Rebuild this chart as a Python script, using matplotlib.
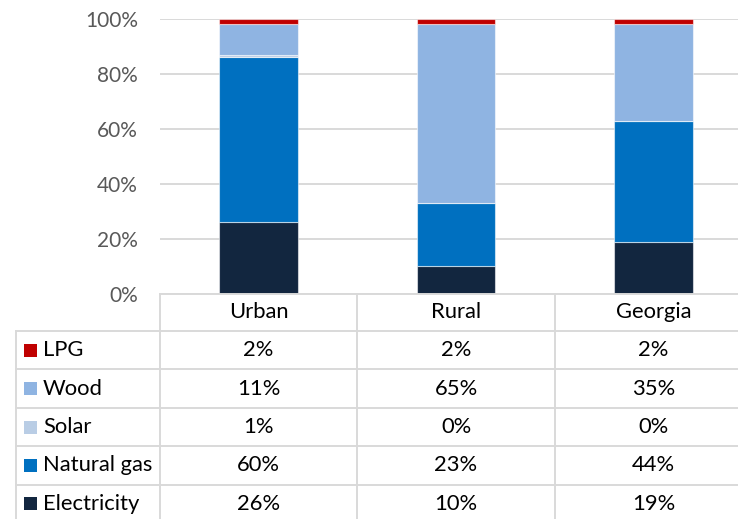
import matplotlib
matplotlib.use("Agg")
import matplotlib.pyplot as plt
import numpy as np

# ---- data ----
categories = ["Urban", "Rural", "Georgia"]
series_names = ["LPG", "Wood", "Solar", "Natural gas", "Electricity"]  # table order (top to bottom)
lpg = [2, 2, 2]
wood = [11, 65, 35]
solar = [1, 0, 0]
natural_gas = [60, 23, 44]
electricity = [26, 10, 19]
y_ticks = [0, 20, 40, 60, 80, 100]

colors = {
    "LPG": "#C00000",
    "Wood": "#8FB4E2",
    "Solar": "#B9CDE5",
    "Natural gas": "#0070C0",
    "Electricity": "#12263F",
}
values = {
    "LPG": lpg,
    "Wood": wood,
    "Solar": solar,
    "Natural gas": natural_gas,
    "Electricity": electricity,
}

W, H = 738, 519
FONT = "Lato"
plt.rcParams["font.family"] = [FONT, "DejaVu Sans"]
TS = 15.8   # table font size
YS = 15.0   # y tick font size

fig = plt.figure(figsize=(W / 100, H / 100), dpi=100)

# layout in pixels
ax_left, ax_right = 160, 752
ax_top, ax_bottom = 19, 293.7
ax = fig.add_axes([ax_left / W, 1 - ax_bottom / H, (ax_right - ax_left) / W, (ax_bottom - ax_top) / H])

x = np.arange(len(categories))
bottom = np.zeros(len(categories))
for name in reversed(series_names):  # stack from Electricity upward
    v = np.array(values[name], dtype=float) / 100.0
    ax.bar(x, v, width=0.4, bottom=bottom, color=colors[name],
           edgecolor=(1, 1, 1, 0.55), linewidth=0.8, zorder=3)
    bottom += v

ax.set_xlim(-0.5, len(categories) - 0.5)
ax.set_ylim(0, 1)
ax.set_yticks([t / 100 for t in y_ticks])
ax.set_yticklabels([f"{t}%" for t in y_ticks])
ax.tick_params(axis="y", length=0, pad=16, labelsize=YS, labelcolor="#595959")
ax.tick_params(axis="x", length=0, labelbottom=False)
for s in ax.spines.values():
    s.set_visible(False)
ax.yaxis.grid(True, color="#D9D9D9", linewidth=1.4, zorder=0)
ax.set_axisbelow(True)
ax.patch.set_alpha(0)

# ---- data table (pixel overlay) ----
tab = fig.add_axes([0, 0, 1, 1], zorder=5)
tab.set_xlim(0, W)
tab.set_ylim(H, 0)
tab.axis("off")
tab.patch.set_alpha(0)

line_c = "#D9D9D9"
lw = 1.4
col_w = (ax_right - ax_left) / len(categories)
table_left = 16
header_bottom = 331
row_h = 38.4
n_rows = len(series_names)
table_bottom = header_bottom + n_rows * row_h

# horizontal lines
tab.plot([ax_left, W + 20], [ax_bottom, ax_bottom], color=line_c, lw=lw)
for r in range(n_rows + 1):
    yy = header_bottom + r * row_h
    tab.plot([table_left, W + 20], [yy, yy], color=line_c, lw=lw)
# vertical lines
tab.plot([table_left, table_left], [header_bottom, table_bottom], color=line_c, lw=lw)
for c in range(len(categories) + 1):
    xx = ax_left + c * col_w
    tab.plot([xx, xx], [ax_bottom, table_bottom], color=line_c, lw=lw)

# header texts
for c, cat in enumerate(categories):
    tab.text(ax_left + (c + 0.5) * col_w, (ax_bottom + header_bottom) / 2, cat,
             ha="center", va="center", fontsize=TS, color="#000000")

# rows
for r, name in enumerate(series_names):
    yc = header_bottom + (r + 0.5) * row_h
    tab.add_patch(plt.Rectangle((24, yc - 6.5), 13, 13, color=colors[name], lw=0))
    tab.text(43, yc, name, ha="left", va="center", fontsize=TS, color="#000000")
    for c in range(len(categories)):
        tab.text(ax_left + (c + 0.5) * col_w, yc, f"{values[name][c]}%",
                 ha="center", va="center", fontsize=TS, color="#000000")

fig.savefig("out.png", dpi=100)
